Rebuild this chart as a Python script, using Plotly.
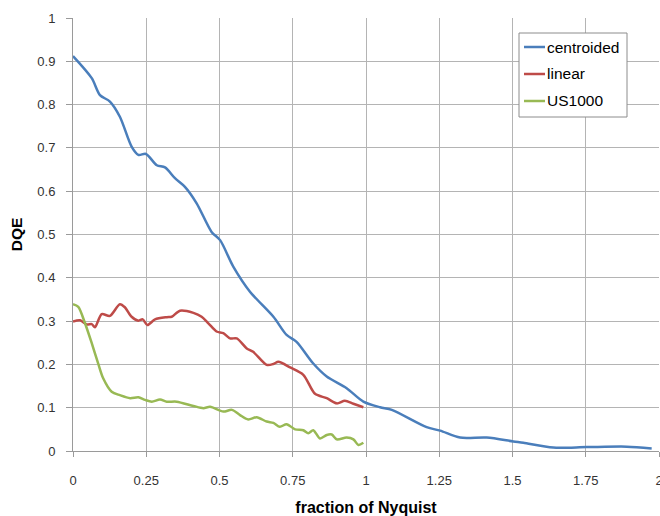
import plotly.graph_objects as go

# ---- data ----
centroided_x = [0.0, 0.064, 0.092, 0.126, 0.160, 0.200, 0.223, 0.249, 0.286, 0.314, 0.348, 0.382,
                0.422, 0.473, 0.502, 0.547, 0.604, 0.684, 0.729, 0.763, 0.820, 0.866, 0.934,
                0.991, 1.048, 1.088, 1.207, 1.253, 1.321, 1.412, 1.503, 1.537, 1.639, 1.753,
                1.890, 1.975]
centroided_y = [0.912, 0.861, 0.822, 0.807, 0.772, 0.703, 0.684, 0.686, 0.660, 0.655, 0.630, 0.610,
                0.572, 0.506, 0.487, 0.426, 0.368, 0.310, 0.268, 0.252, 0.202, 0.172, 0.145,
                0.114, 0.101, 0.095, 0.055, 0.047, 0.031, 0.031, 0.022, 0.019, 0.008, 0.009,
                0.010, 0.006]

linear_x = [0.0, 0.024, 0.047, 0.064, 0.075, 0.098, 0.126, 0.160, 0.177, 0.200, 0.223, 0.238,
            0.254, 0.280, 0.320, 0.337, 0.365, 0.411, 0.439, 0.462, 0.490, 0.513, 0.536, 0.559,
            0.593, 0.615, 0.661, 0.684, 0.701, 0.741, 0.786, 0.826, 0.866, 0.900, 0.928, 0.957,
            0.991]
linear_y = [0.299, 0.302, 0.292, 0.293, 0.286, 0.316, 0.312, 0.339, 0.332, 0.310, 0.301, 0.304,
            0.291, 0.304, 0.309, 0.310, 0.324, 0.319, 0.310, 0.295, 0.276, 0.272, 0.260, 0.260,
            0.237, 0.229, 0.199, 0.201, 0.206, 0.193, 0.176, 0.132, 0.122, 0.110, 0.116, 0.109,
            0.101]

us1000_x = [0.0, 0.018, 0.041, 0.064, 0.086, 0.103, 0.132, 0.160, 0.195, 0.223, 0.246, 0.269,
            0.297, 0.320, 0.354, 0.411, 0.445, 0.468, 0.513, 0.542, 0.570, 0.598, 0.627, 0.661,
            0.684, 0.706, 0.729, 0.758, 0.786, 0.803, 0.820, 0.843, 0.866, 0.883, 0.900, 0.934,
            0.957, 0.974, 0.991]
us1000_y = [0.339, 0.333, 0.295, 0.249, 0.202, 0.168, 0.137, 0.129, 0.122, 0.124, 0.118, 0.114,
            0.119, 0.114, 0.114, 0.104, 0.099, 0.102, 0.091, 0.095, 0.083, 0.073, 0.078, 0.068,
            0.065, 0.056, 0.062, 0.050, 0.048, 0.041, 0.048, 0.029, 0.037, 0.038, 0.027, 0.031,
            0.027, 0.014, 0.019]

series_names = ["centroided", "linear", "US1000"]
series_colors = ["#4A7EBB", "#BE4B48", "#98B954"]

x_ticks = [0, 0.25, 0.5, 0.75, 1, 1.25, 1.5, 1.75, 2]
x_tick_labels = ["0", "0.25", "0.5", "0.75", "1", "1.25", "1.5", "1.75", "2"]
y_ticks = [0, 0.1, 0.2, 0.3, 0.4, 0.5, 0.6, 0.7, 0.8, 0.9, 1]
y_tick_labels = ["0", "0.1", "0.2", "0.3", "0.4", "0.5", "0.6", "0.7", "0.8", "0.9", "1"]

FONT = "Liberation Sans, Arial, sans-serif"
W, H = 660, 516
ML, MR, MT, MB = 73, 1, 18, 65
PW, PH = W - ML - MR, H - MT - MB


def px(x):
    return (x - ML) / PW


def py(y):
    return (H - MB - y) / PH


fig = go.Figure()
for xs, ys, name, col in zip([centroided_x, linear_x, us1000_x],
                             [centroided_y, linear_y, us1000_y],
                             series_names, series_colors):
    fig.add_trace(go.Scatter(x=xs, y=ys, mode="lines", name=name,
                             line=dict(color=col, width=2.5, shape="spline", smoothing=0.8),
                             showlegend=False))

# custom legend box (Excel style)
shapes = [dict(type="rect", xref="paper", yref="paper",
               x0=px(519), x1=px(627), y0=py(117), y1=py(33),
               line=dict(color="#8c8c8c", width=1), fillcolor="white", layer="above")]
annotations = []
for i, (name, col) in enumerate(zip(series_names, series_colors)):
    yy = 47 + 27 * i
    shapes.append(dict(type="line", xref="paper", yref="paper",
                       x0=px(524), x1=px(545), y0=py(yy), y1=py(yy),
                       line=dict(color=col, width=2.5), layer="above"))
    annotations.append(dict(xref="paper", yref="paper", x=px(545), y=py(yy),
                            text=name, showarrow=False, xanchor="left", yanchor="middle",
                            font=dict(family=FONT, size=15.5, color="#000000")))

fig.update_layout(
    width=W, height=H,
    margin=dict(l=ML, r=MR, t=MT, b=MB, autoexpand=False),
    paper_bgcolor="white", plot_bgcolor="white",
    font=dict(family=FONT, size=13, color="#333333"),
    shapes=shapes, annotations=annotations,
    xaxis=dict(range=[0, 2], tickvals=x_ticks, ticktext=x_tick_labels,
               showgrid=True, gridcolor="#b4b4b4", gridwidth=1,
               showline=True, linecolor="#9a9a9a", linewidth=1,
               ticks="outside", ticklen=5, tickcolor="#9a9a9a",
               ticklabelstandoff=12, zeroline=False, automargin=False,
               ticklabeloverflow="allow",
               tickfont=dict(family=FONT, size=13, color="#333333"),
               title=dict(text="<b>fraction of Nyquist</b>", standoff=15,
                          font=dict(family=FONT, size=16, color="#000000"))),
    yaxis=dict(range=[0, 1], tickvals=y_ticks, ticktext=y_tick_labels,
               showgrid=True, gridcolor="#b4b4b4", gridwidth=1,
               showline=True, linecolor="#9a9a9a", linewidth=1,
               ticks="outside", ticklen=6, tickcolor="#9a9a9a",
               ticklabelstandoff=8, zeroline=False, automargin=False,
               ticklabeloverflow="allow",
               tickfont=dict(family=FONT, size=13, color="#333333"),
               title=dict(text="<b>DQE</b>", standoff=10,
                          font=dict(family=FONT, size=15.5, color="#000000"))),
)

fig.write_html("out.html", config={"displayModeBar": False},
               post_script="document.body.style.margin='0px';document.body.style.padding='0px';")
